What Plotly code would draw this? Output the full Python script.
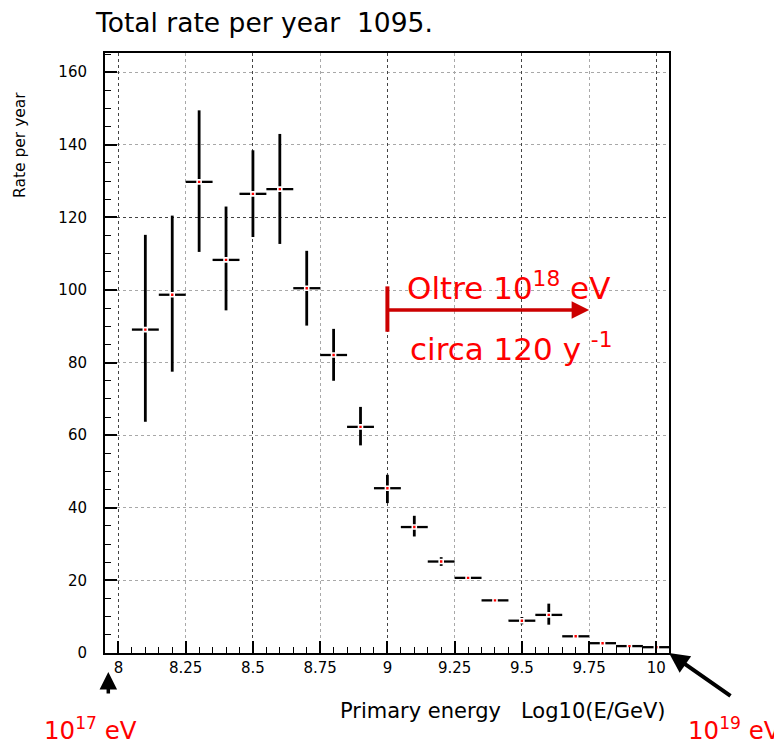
import plotly.graph_objects as go

# ---- data ----
log_energy = [8.1, 8.2, 8.3, 8.4, 8.5, 8.6, 8.7, 8.8, 8.9, 9.0,
              9.1, 9.2, 9.3, 9.4, 9.5, 9.6, 9.7, 9.8, 9.9, 10.0]
rate = [89.1, 98.7, 129.8, 108.3, 126.5, 127.8, 100.5, 82.1, 62.3, 45.4,
        34.7, 25.2, 20.7, 14.5, 8.9, 10.5, 4.6, 2.7, 1.9, 1.6]
err_up = [26.1, 21.8, 19.7, 14.7, 12.0, 15.2, 10.3, 7.2, 5.5, 3.7,
          3.1, 1.2, 0.8, 0.6, 1.0, 3.1, 0.6, 0.5, 0.5, 0.5]
err_down = [25.4, 21.2, 19.3, 13.9, 11.9, 15.1, 10.3, 7.1, 5.1, 4.1,
            2.6, 1.2, 0.8, 0.6, 1.0, 2.7, 0.6, 0.5, 0.5, 0.5]
bin_half_width = 0.05

x_range = [7.95, 10.047]
y_range = [0, 165.3]
x_tick_vals = [8, 8.25, 8.5, 8.75, 9, 9.25, 9.5, 9.75, 10]
x_tick_text = ["8", "8.25", "8.5", "8.75", "9", "9.25", "9.5", "9.75", "10"]

title_text = "Total rate per year\u00a0\u00a01095."
x_title = "Primary energy\u00a0\u00a0\u00a0Log10(E/GeV)"
y_title = "Rate per year"

# threshold annotation (10^18 eV)
thr_x = 9.0
thr_bar = [88.5, 101.0]
arrow_y = 94.5
arrow_end_x = 9.75

RED = "#ff0000"
DARKRED = "#cc0000"
FONT = "DejaVu Sans"

# page body has an 8px margin: compensate so the plot area sits at 105..669 x 53..653
PAGE_OFF = 8
W, H = 782 - PAGE_OFF, 747 - PAGE_OFF
PLOT_W, PLOT_H = 564, 600

fig = go.Figure()

fig.add_trace(go.Scatter(
    x=log_energy, y=rate, mode="markers",
    marker=dict(symbol="square", size=4, color=RED,
                line=dict(color="white", width=1.6)),
    error_y=dict(type="data", symmetric=False, array=err_up,
                 arrayminus=err_down, color="black", thickness=2.8, width=0),
    error_x=dict(type="constant", value=bin_half_width, color="black",
                 thickness=2.3, width=0),
    showlegend=False, hoverinfo="x+y",
))

# invisible trace on overlay axes to get the darker grid lines
fig.add_trace(go.Scatter(x=[x_range[0]], y=[0], xaxis="x2", yaxis="y2",
                         mode="markers", marker=dict(opacity=0),
                         showlegend=False, hoverinfo="skip"))

fig.update_layout(
    width=W, height=H,
    margin=dict(l=105 - PAGE_OFF, r=W - (669 - PAGE_OFF), t=53 - PAGE_OFF,
                b=H - (653 - PAGE_OFF), pad=0),
    paper_bgcolor="white", plot_bgcolor="white",
    font=dict(family=FONT, color="black"),
    xaxis=dict(
        range=x_range, tickvals=x_tick_vals, ticktext=x_tick_text,
        ticks="inside", ticklen=12, tickwidth=1.5, tickcolor="black",
        minor=dict(dtick=0.05, tick0=8, ticks="inside", ticklen=6,
                   tickcolor="black", tickwidth=1.2, showgrid=False),
        showgrid=True, gridcolor="#a8a8a8", griddash="dot", gridwidth=1,
        showline=True, linecolor="black", linewidth=2, mirror=True,
        zeroline=False, tickfont=dict(size=15, family=FONT),
        ticklabelstandoff=0,
    ),
    yaxis=dict(
        range=y_range, dtick=20, tick0=0,
        ticks="inside", ticklen=12, tickwidth=1.5, tickcolor="black",
        minor=dict(dtick=5, ticks="inside", ticklen=6, tickcolor="black",
                   tickwidth=1.2, showgrid=False),
        showgrid=True, gridcolor="#a8a8a8", griddash="dot", gridwidth=1,
        showline=True, linecolor="black", linewidth=2, mirror=True,
        zeroline=False, tickfont=dict(size=15, family=FONT),
        ticklabelstandoff=13,
    ),
    xaxis2=dict(overlaying="x", matches="x", dtick=0.5, tick0=8,
                showgrid=True, gridcolor="#444444", griddash="dot",
                gridwidth=1, showticklabels=False, ticks="",
                showline=False, zeroline=False),
    yaxis2=dict(overlaying="y", matches="y", dtick=120, tick0=0,
                showgrid=True, gridcolor="#444444", griddash="dot",
                gridwidth=1, showticklabels=False, ticks="",
                showline=False, zeroline=False),
)

# red threshold marker
fig.add_shape(type="line", x0=thr_x, x1=thr_x, y0=thr_bar[0], y1=thr_bar[1],
              xref="x", yref="y", line=dict(color=DARKRED, width=4))


def px_x(px):
    return (px - 105) / PLOT_W


def px_y(py):
    return (653 - py) / PLOT_H


annotations = [
    # title
    dict(text=title_text, x=px_x(93), y=px_y(23), xref="paper",
         yref="paper", xanchor="left", yanchor="middle", showarrow=False,
         font=dict(size=26.5, family=FONT, color="black")),
    # y title
    dict(text=y_title, x=px_x(20), y=px_y(145), xref="paper",
         yref="paper", xanchor="center", yanchor="middle", textangle=-90,
         showarrow=False, font=dict(size=15.5, family=FONT, color="black")),
    # x title
    dict(text=x_title, x=px_x(668), y=px_y(711), xref="paper",
         yref="paper", xanchor="right", yanchor="middle", showarrow=False,
         font=dict(size=21, family=FONT, color="black")),
    # red arrow
    dict(text="", x=arrow_end_x, y=arrow_y, ax=thr_x, ay=arrow_y,
         xref="x", yref="y", axref="x", ayref="y", showarrow=True,
         arrowhead=2, arrowsize=1, arrowwidth=3.5, arrowcolor=DARKRED),
    dict(text="Oltre 10<sup>18</sup> eV", x=9.066, y=101.2, xref="x",
         yref="y", xanchor="left", yanchor="middle", showarrow=False,
         font=dict(size=31, family=FONT, color=RED)),
    dict(text="circa 120 y <sup>-1</sup>", x=9.077, y=84.4, xref="x",
         yref="y", xanchor="left", yanchor="middle", showarrow=False,
         font=dict(size=31, family=FONT, color=RED)),
    # bottom labels
    dict(text="10<sup>17</sup> eV", x=px_x(42), y=px_y(729),
         xref="paper", yref="paper", xanchor="left", yanchor="middle",
         showarrow=False, font=dict(size=24.5, family=FONT, color=RED)),
    dict(text="10<sup>19</sup> eV", x=px_x(686), y=px_y(729),
         xref="paper", yref="paper", xanchor="left", yanchor="middle",
         showarrow=False, font=dict(size=24.5, family=FONT, color=RED)),
    # black arrows
    dict(text="", x=px_x(108.3), y=px_y(672), xref="paper",
         yref="paper", ax=0, ay=23, showarrow=True, arrowhead=2,
         arrowsize=1, arrowwidth=3.5, arrowcolor="black"),
    dict(text="", x=1.0, y=0.0, xref="paper", yref="paper", ax=63, ay=44,
         showarrow=True, arrowhead=2, arrowsize=1, arrowwidth=4,
         arrowcolor="black"),
]
fig.update_layout(annotations=annotations)

fig.write_html("out.html")
